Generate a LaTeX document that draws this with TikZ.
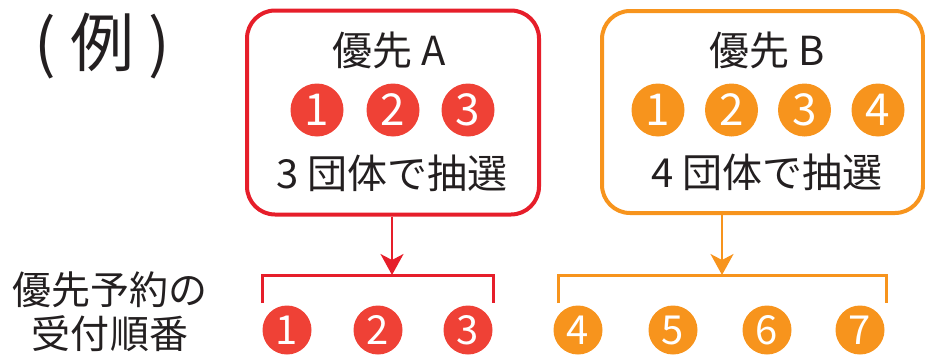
\documentclass[tikz,border=0pt]{standalone}
\usepackage{fontspec}
\setmainfont{Noto Sans CJK JP}
\usetikzlibrary{arrows.meta}
\definecolor{redline}{HTML}{E61E2A}
\definecolor{redfill}{HTML}{EF4136}
\definecolor{orange}{HTML}{F7941D}
\definecolor{ink}{HTML}{231F20}
\tikzset{
  frame/.style={draw=#1, line width=4pt, rounded corners=28pt, inner sep=0pt},
  numbig/.style={circle, fill=#1, text=white, minimum size=53pt, inner sep=0pt, font=\fontsize{44}{44}\selectfont},
  numsmall/.style={circle, fill=#1, text=white, minimum size=49pt, inner sep=0pt, font=\fontsize{40}{40}\selectfont},
  bodytext/.style={text=ink, inner sep=0pt, anchor=base, font=\fontsize{40}{40}\selectfont},
  conn/.style={draw=#1, line width=2pt, -{Stealth[length=21pt, width=23pt, inset=6pt]}},
  bracket/.style={draw=#1, line width=3pt}
}
\begin{document}
\begin{tikzpicture}[x=1pt,y=-1pt]
\useasboundingbox (0,0) rectangle (925,356);
% left labels
\node[bodytext, font=\fontsize{64}{64}\selectfont] (ex) at (102,66) {( 例 )};
\node[text=ink, inner sep=0pt, align=center, anchor=base, font=\fontsize{39}{44}\selectfont] (lab) at (110,348) {優先予約の\\受付順番};
% box A
\node[frame=redline, minimum width=292pt, minimum height=204pt] (boxA) at (393,112.5) {};
\node[bodytext] (tA) at (389,65) {優先 A};
\node[numbig=redfill] (a1) at (317,110) {1};
\node[numbig=redfill] (a2) at (393,110) {2};
\node[numbig=redfill] (a3) at (468,110) {3};
\node[bodytext] (sA) at (392,188) {3 団体で抽選};
% box B
\node[frame=orange, minimum width=321pt, minimum height=202pt] (boxB) at (762.5,112) {};
\node[bodytext] (tB) at (767,65) {優先 B};
\node[numbig=orange] (b1) at (658,110) {1};
\node[numbig=orange] (b2) at (731.5,110) {2};
\node[numbig=orange] (b3) at (804.5,110) {3};
\node[numbig=orange] (b4) at (878,110) {4};
\node[bodytext] (sB) at (767,187) {4 団体で抽選};
% brackets
\coordinate (brA) at (392,275);
\coordinate (brB) at (722,275);
\draw[bracket=redline] (262,303) -- (262,275) -- (493,275) -- (493,303);
\draw[bracket=orange] (558,303) -- (558,275) -- (886,275) -- (886,303);
\draw[conn=redline] (brA |- boxA.south) -- (brA);
\draw[conn=orange] (brB |- boxB.south) -- (brB);
% order circles
\node[numsmall=redfill] (r1) at (287,330) {1};
\node[numsmall=redfill] (r2) at (378,330) {2};
\node[numsmall=redfill] (r3) at (468,330) {3};
\node[numsmall=orange] (o4) at (578,330) {4};
\node[numsmall=orange] (o5) at (673,330) {5};
\node[numsmall=orange] (o6) at (767,330) {6};
\node[numsmall=orange] (o7) at (860,330) {7};
\end{tikzpicture}
\end{document}
